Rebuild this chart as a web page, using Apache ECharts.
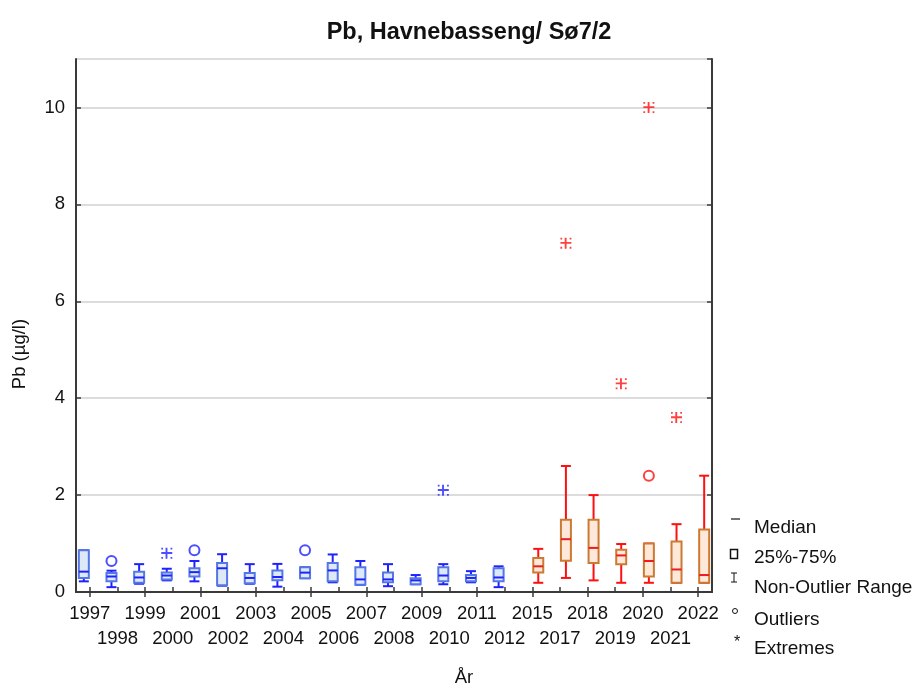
<!DOCTYPE html>
<html>
<head>
<meta charset="utf-8">
<script src="https://cdn.jsdelivr.net/npm/echarts@6/dist/echarts.min.js"></script>
<style>html,body{margin:0;padding:0;background:#fff}#c{width:916px;height:686px}</style>
</head>
<body>
<div id="c"></div>
<script>
// ---- data ----
const years = ['1997','1998','1999','2000','2001','2002','2003','2004','2005','2006','2007','2008','2009','2010','2011','2012','2015','2017','2018','2019','2020','2021','2022'];
const boxMin = [0.22,0.10,0.17,0.24,0.22,0.13,0.17,0.11,0.285,0.20,0.15,0.12,0.16,0.16,0.20,0.10, 0.19,0.29,0.24,0.19,0.19,0.19,0.19];
const boxQ1  = [0.29,0.22,0.19,0.26,0.32,0.14,0.18,0.24,0.285,0.22,0.15,0.20,0.16,0.22,0.22,0.22, 0.40,0.645,0.60,0.575,0.32,0.19,0.19];
const boxMed = [0.42,0.32,0.30,0.34,0.41,0.49,0.29,0.31,0.40,0.445,0.26,0.26,0.24,0.34,0.29,0.30, 0.53,1.09,0.91,0.755,0.64,0.465,0.35];
const boxQ3  = [0.86,0.39,0.42,0.40,0.49,0.60,0.39,0.445,0.51,0.60,0.51,0.40,0.285,0.51,0.35,0.49, 0.70,1.49,1.49,0.87,1.00,1.04,1.29];
const boxMax = [0.86,0.44,0.575,0.48,0.64,0.78,0.575,0.58,0.51,0.775,0.64,0.575,0.35,0.575,0.43,0.53, 0.89,2.60,2.00,0.99,1.00,1.40,2.40];
const outlierYears  = ['1998','2001','2005','2020'];
const outlierValues = [0.64, 0.86, 0.86, 2.40];
const extremeYears  = ['2000','2010','2017','2019','2020','2021'];
const extremeValues = [0.80, 2.10, 7.20, 4.30, 10.0, 3.60];
const yTicks = [0,2,4,6,8,10];
const firstRedYear = 2015;

// ---- styles ----
const FONT = '"Liberation Sans", Arial, sans-serif';
const BLUE = {whisker:'#1f22ff', border:'#5577e6', fill:'#dde9f8', median:'#1f22ff', off:-6};
const RED  = {whisker:'#ff1010', border:'#cc7a33', fill:'#fde8d9', median:'#ee1c1c', off:6};
const isRed = y => +y >= firstRedYear;

function boxData(red){
  const out=[];
  years.forEach((y,i)=>{ if(isRed(y)===red) out.push([y,boxMin[i],boxQ1[i],boxMed[i],boxQ3[i],boxMax[i]]); });
  return out;
}
function pts(ys,vs,red){
  const out=[];
  ys.forEach((y,i)=>{ if(isRed(y)===red) out.push([y,vs[i]]); });
  return out;
}
function makeRender(st){
  return function(params, api){
    const c = api.coord([api.value(0), 0]);
    const x = c[0] + st.off;
    const yv = k => api.coord([api.value(0), api.value(k)])[1];
    const yMin=yv(1), yQ1=yv(2), yMed=yv(3), yQ3=yv(4), yMax=yv(5);
    const hw=5, cw=5;
    const wl = {stroke:st.whisker, lineWidth:2};
    return {type:'group', children:[
      {type:'line', shape:{x1:x,y1:yMax,x2:x,y2:yQ3}, style:wl},
      {type:'line', shape:{x1:x,y1:yQ1,x2:x,y2:yMin}, style:wl},
      {type:'line', shape:{x1:x-cw,y1:yMax,x2:x+cw,y2:yMax}, style:wl},
      {type:'line', shape:{x1:x-cw,y1:yMin,x2:x+cw,y2:yMin}, style:wl},
      {type:'rect', shape:{x:x-hw,y:yQ3,width:hw*2,height:Math.max(yQ1-yQ3,1)}, style:{fill:st.fill, stroke:st.border, lineWidth:2}},
      {type:'line', shape:{x1:x-hw,y1:yMed,x2:x+hw,y2:yMed}, style:{stroke:st.median, lineWidth:2}}
    ]};
  };
}
const ASTER = 'path://M4.4 0.5h1.7v10h-1.7z M0.5 4.4h10v1.7h-10z M0.5 0.5h1.6v1.6h-1.6z M8.9 0.5h1.6v1.6h-1.6z M0.5 8.9h1.6v1.6h-1.6z M8.9 8.9h1.6v1.6h-1.6z';

const chart = echarts.init(document.getElementById('c'), null, {renderer:'canvas'});
const axisLine = {show:true, lineStyle:{color:'#3a3a3a', width:2}};
chart.setOption({
  animation:false,
  backgroundColor:'#fff',
  title:{text:'Pb, Havnebasseng/ Sø7/2', left:464, top:16, textAlign:'center',
    textStyle:{fontFamily:FONT, fontSize:23.5, fontWeight:'bold', color:'#111'}},
  grid:{left:76, right:204, top:59, bottom:94},
  xAxis:[
    {type:'category', data:years, boundaryGap:true, position:'bottom',
     axisLine:axisLine, axisTick:{show:true, inside:true, alignWithLabel:true, length:5, lineStyle:{color:'#3a3a3a', width:1.5}},
     axisLabel:{interval:0, fontFamily:FONT, fontSize:18.5, color:'#111', margin:9, lineHeight:25,
       formatter:(v,i)=> i%2 ? '\n'+v : v},
     splitLine:{show:false}},
    {type:'category', data:years, boundaryGap:true, position:'top',
     axisLine:axisLine, axisTick:{show:true, inside:true, alignWithLabel:true, length:5, lineStyle:{color:'#3a3a3a', width:1.5}},
     axisLabel:{show:false}, splitLine:{show:false}}
  ],
  yAxis:[
    {type:'value', min:0, max:11, interval:2, position:'left',
     axisLine:axisLine, axisTick:{show:true, inside:true, length:5, lineStyle:{color:'#3a3a3a', width:1.5}},
     axisLabel:{fontFamily:FONT, fontSize:18.5, color:'#111', margin:11, showMaxLabel:false,
       formatter:v=> yTicks.indexOf(v)>=0 ? String(v) : ''},
     splitLine:{show:true, lineStyle:{color:'#dcdcdc', width:2}}},
    {type:'value', min:0, max:11, interval:2, position:'right',
     axisLine:axisLine, axisTick:{show:true, inside:true, length:5, lineStyle:{color:'#3a3a3a', width:1.5}},
     axisLabel:{show:false}, splitLine:{show:false}}
  ],
  series:[
    {type:'custom', name:'blue', renderItem:makeRender(BLUE), data:boxData(false), encode:{x:0,y:[1,2,3,4,5]}, z:3},
    {type:'custom', name:'red', renderItem:makeRender(RED), data:boxData(true), encode:{x:0,y:[1,2,3,4,5]}, z:3},
    {type:'scatter', data:pts(outlierYears,outlierValues,false), symbol:'circle', symbolSize:10, symbolOffset:[BLUE.off,0],
     itemStyle:{color:'rgba(0,0,0,0)', borderColor:BLUE.whisker, borderWidth:2}, z:4},
    {type:'scatter', data:pts(outlierYears,outlierValues,true), symbol:'circle', symbolSize:10, symbolOffset:[RED.off,0],
     itemStyle:{color:'rgba(0,0,0,0)', borderColor:RED.whisker, borderWidth:2}, z:4},
    {type:'scatter', data:pts(extremeYears,extremeValues,false), symbol:ASTER, symbolSize:11, symbolOffset:[BLUE.off,0],
     itemStyle:{color:BLUE.whisker}, z:4},
    {type:'scatter', data:pts(extremeYears,extremeValues,true), symbol:ASTER, symbolSize:11, symbolOffset:[RED.off,0],
     itemStyle:{color:RED.whisker}, z:4}
  ],
  graphic:[
    {type:'text', x:20, y:354, rotation:Math.PI/2, style:{text:'Pb (µg/l)', font:'18.5px '+FONT, fill:'#111', align:'center', verticalAlign:'middle'}},
    {type:'text', x:464, y:678, style:{text:'År', font:'18.5px '+FONT, fill:'#111', align:'center', verticalAlign:'middle'}},
    // legend
    {type:'line', shape:{x1:731,y1:519,x2:740,y2:519}, style:{stroke:'#111', lineWidth:1.2}},
    {type:'text', x:754, y:528, style:{text:'Median', font:'19px '+FONT, fill:'#111', align:'left', verticalAlign:'middle'}},
    {type:'rect', shape:{x:730.5,y:549.5,width:7,height:9}, style:{fill:'none', stroke:'#111', lineWidth:1.5}},
    {type:'text', x:754, y:558, style:{text:'25%-75%', font:'19px '+FONT, fill:'#111', align:'left', verticalAlign:'middle'}},
    {type:'line', shape:{x1:734,y1:573,x2:734,y2:582}, style:{stroke:'#111', lineWidth:1}},
    {type:'line', shape:{x1:731,y1:573,x2:737,y2:573}, style:{stroke:'#111', lineWidth:1}},
    {type:'line', shape:{x1:731,y1:582,x2:737,y2:582}, style:{stroke:'#111', lineWidth:1}},
    {type:'text', x:754, y:588, style:{text:'Non-Outlier Range', font:'19px '+FONT, fill:'#111', align:'left', verticalAlign:'middle'}},
    {type:'circle', shape:{cx:735, cy:611, r:2.5}, style:{fill:'none', stroke:'#111', lineWidth:1}},
    {type:'text', x:754, y:620, style:{text:'Outliers', font:'19px '+FONT, fill:'#111', align:'left', verticalAlign:'middle'}},
    {type:'text', x:737, y:643, style:{text:'*', font:'16px '+FONT, fill:'#111', align:'center', verticalAlign:'middle'}},
    {type:'text', x:754, y:649, style:{text:'Extremes', font:'19px '+FONT, fill:'#111', align:'left', verticalAlign:'middle'}}
  ]
});
</script>
</body>
</html>
